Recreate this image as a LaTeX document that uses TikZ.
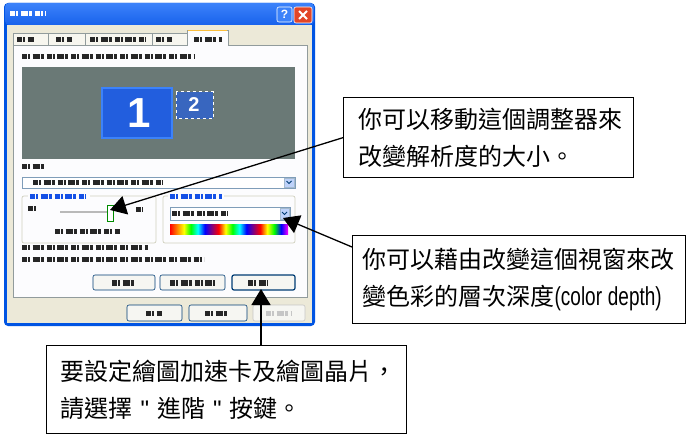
\documentclass[tikz,border=0pt]{standalone}
\usepackage{fontspec}
\newfontfamily\cjk{Noto Sans CJK TC}
\newfontfamily\arialf{Liberation Sans}
\usetikzlibrary{arrows.meta,calc}
\definecolor{xpblue}{RGB}{0,84,227}
\definecolor{xptitle}{RGB}{24,98,236}
\definecolor{xptitlelt}{RGB}{60,130,250}
\definecolor{xpbeige}{RGB}{236,233,216}
\definecolor{panelbg}{RGB}{252,252,254}
\definecolor{tabborder}{RGB}{145,155,156}
\definecolor{monbg}{RGB}{106,121,118}
\definecolor{monblue}{RGB}{34,94,222}
\definecolor{ddborder}{RGB}{127,157,185}
\definecolor{ddbutton}{RGB}{190,210,250}
\definecolor{grpborder}{RGB}{208,208,191}
\definecolor{grptext}{RGB}{20,80,230}
\definecolor{xpred}{RGB}{226,70,40}
\definecolor{tabhot}{RGB}{250,190,60}
\definecolor{btnborder}{RGB}{0,60,116}
\definecolor{btnface}{RGB}{246,246,242}
\pgfdeclarehorizontalshading{rainbow}{100bp}{color(0bp)=(red); color(25bp)=(red);
 color(27.94bp)=(orange); color(30.88bp)=(yellow); color(33.82bp)=(green); color(36.76bp)=(cyan); color(39.71bp)=(blue); color(42.65bp)=(violet);
 color(45.59bp)=(red); color(48.53bp)=(yellow); color(51.47bp)=(green); color(54.41bp)=(cyan); color(57.35bp)=(blue); color(60.29bp)=(violet);
 color(63.24bp)=(red); color(66.18bp)=(yellow); color(69.12bp)=(green); color(72.06bp)=(blue); color(75bp)=(magenta); color(100bp)=(magenta)}
\newcommand\smdg[4][black!85]{\draw[#1,line width=5pt,dash pattern=on 5pt off 1pt on 2pt off 2.5pt on 7pt off 1pt on 3pt off 3pt] (#2,#3) -- ++(#4,0);}
\tikzset{
  callout/.style={draw=black, line width=1.3pt, fill=white, anchor=north west, align=left,
    font=\cjk\fontsize{24}{37}\selectfont, inner ysep=0pt},
  conn/.style={line width=1.3pt, -{Triangle[length=16pt,width=19pt]}},
  xpbtn/.style={draw=btnborder, fill=btnface, rounded corners=2pt, line width=0.6pt},
  tabbox/.style={draw=tabborder, fill=xpbeige!40!white, line width=0.6pt},
  ddbox/.style={draw=ddborder, fill=white, line width=0.6pt},
  ddarrow/.style={fill=ddbutton, draw=ddborder!70!white, line width=0.4pt},
  grpbox/.style={draw=grpborder, rounded corners=2pt, line width=0.7pt}
}
\begin{document}
\begin{tikzpicture}[x=1pt,y=-1pt]
\useasboundingbox (0,0) rectangle (687,435);
\fill[white] (0,0) rectangle (687,435);
% ---------- dialog window ----------
\fill[xpblue, rounded corners=4pt] (4,3) rectangle (315,326);
\shade[top color=xptitlelt, bottom color=xptitle, rounded corners=4pt] (5,3) rectangle (314,25);
\fill[xpbeige] (7,25) rectangle (312,323);
\smdg[white]{10}{14}{36}
% title buttons
\draw[fill=xptitlelt, draw=white, rounded corners=2pt, line width=0.6pt] (277,7) rectangle (292,22);
\node[text=white, font=\arialf\bfseries\fontsize{12}{12}\selectfont, inner sep=0pt] (helpq) at (284.5,14.5) {?};
\draw[fill=xpred, draw=white, rounded corners=2pt, line width=0.6pt] (294,7) rectangle (312,23);
\draw[white, line width=2pt] (299,11) -- (307,19) (307,11) -- (299,19);
% tabs
\draw[tabbox] (13,45) -- (13,33) -- (48,33) -- (48,45);
\draw[tabbox] (48,45) -- (48,33) -- (85,33) -- (85,45);
\draw[tabbox] (85,45) -- (85,33) -- (152,33) -- (152,45);
\draw[tabbox] (152,45) -- (152,33) -- (187,33) -- (187,45);
\smdg{17}{40}{17}
\smdg{56}{40}{16}
\smdg{90}{40}{56}
\smdg{156}{40}{16}
% tab panel
\draw[fill=panelbg, draw=tabborder, line width=0.7pt] (13,45) rectangle (307,297);
\fill[panelbg] (187,30) rectangle (228,46);
\draw[tabborder, line width=0.6pt] (187,46) -- (187,30) -- (228,30) -- (228,46);
\draw[tabhot, line width=1.6pt] (188,30.5) -- (227,30.5);
\smdg{194}{40}{28}
% description label
\smdg{22}{57}{173}
% monitor area
\fill[monbg] (22,67) rectangle (295,159);
\draw[fill=monblue, draw=xptitlelt, line width=1.5pt] (102,88) rectangle (172,138);
\node[text=white, font=\arialf\bfseries\fontsize{42}{42}\selectfont, inner sep=0pt] (mon1num) at (139,113) {1};
\fill[monblue!70!monbg] (176,92) rectangle (213,119);
\draw[white, dashed, line width=1pt] (176,92) rectangle (213,119);
\node[text=white, font=\arialf\bfseries\fontsize{20}{20}\selectfont, inner sep=0pt] (mon2num) at (194,105) {2};
% display dropdown
\smdg{22}{167}{22}
\draw[ddbox] (22,177) rectangle (295,188);
\smdg{33}{182.5}{130}
\draw[ddarrow] (284,178.5) rectangle (294,187);
\draw[btnborder, line width=0.8pt] (286.5,181) -- (289,183.5) -- (291.5,181);
% left group: screen resolution
\draw[grpbox] (22,196) rectangle (156,243);
\fill[panelbg] (28,192) rectangle (90,201);
\smdg[grptext]{30}{197}{56}
\smdg{28}{209}{9}
\draw[gray!55, line width=2pt] (60,212) -- (107,212);
\draw[fill=white, draw=green!55!black, line width=0.7pt] (107,205) rectangle (113,221);
\smdg{136}{210}{7}
\smdg{55}{232}{65}
% right group: colour quality
\draw[grpbox] (163,196) rectangle (295,243);
\fill[panelbg] (168,192) rectangle (224,201);
\smdg[grptext]{170}{197}{52}
\draw[ddbox] (170,207) rectangle (290,220);
\smdg{172}{213.5}{56}
\draw[ddarrow] (280,208.5) rectangle (289,219);
\draw[btnborder, line width=0.8pt] (282,212) -- (284.5,214.5) -- (287,212);
\shade[shading=rainbow] (170,225) rectangle (288,235);
% info lines
\smdg{22}{248}{126}
\smdg{22}{260}{182}
% panel buttons
\draw[xpbtn] (93,275) rectangle (155,290);
\smdg{112}{283}{24}
\draw[xpbtn] (160,275) rectangle (225,290);
\smdg{170}{283}{45}
\draw[xpbtn, line width=1.2pt] (232,275) rectangle (295,290);
\smdg{248}{283}{20}
% dialog buttons
\draw[xpbtn] (127,305) rectangle (182,321);
\smdg{146}{313}{16}
\draw[xpbtn] (189,305) rectangle (247,321);
\smdg{205}{313}{24}
\draw[xpbtn, draw=gray!45] (253,305) rectangle (305,321);
\smdg[gray!45]{266}{313}{26}
% ---------- targets ----------
\coordinate (slider) at (110,210);
\coordinate (colordd) at (283,218);
\coordinate (advbtn) at (261,289);
% ---------- callouts ----------
\node[callout, text width=260pt, inner xsep=15pt, minimum height=80pt] (box1) at (343,97)
  {你可以移動這個調整器來\\改變解析度的大小。};
\node[callout, text width=313pt, inner xsep=10pt, minimum height=88pt] (box2) at (352,235)
  {你可以藉由改變這個視窗來改\\變色彩的層次深度\scalebox{0.73}[1]{\arialf\fontsize{26}{26}\selectfont(color depth)}};
\node[callout, text width=332pt, inner xsep=14pt, minimum height=88pt] (box3) at (46,345)
  {要設定繪圖加速卡及繪圖晶片，\\請選擇{\arialf\space"\space}進階{\arialf\space"\space}按鍵。};
\coordinate (b2a) at ($(box2.north west)+(0,12)$);
\coordinate (b3a) at ($(box3.north west)+(215,0)$);
% ---------- connectors ----------
\draw[conn] (box1.west) -- (slider);
\draw[conn] (b2a) -- (colordd);
\draw[conn] (b3a) -- (advbtn);
\end{tikzpicture}
\end{document}
